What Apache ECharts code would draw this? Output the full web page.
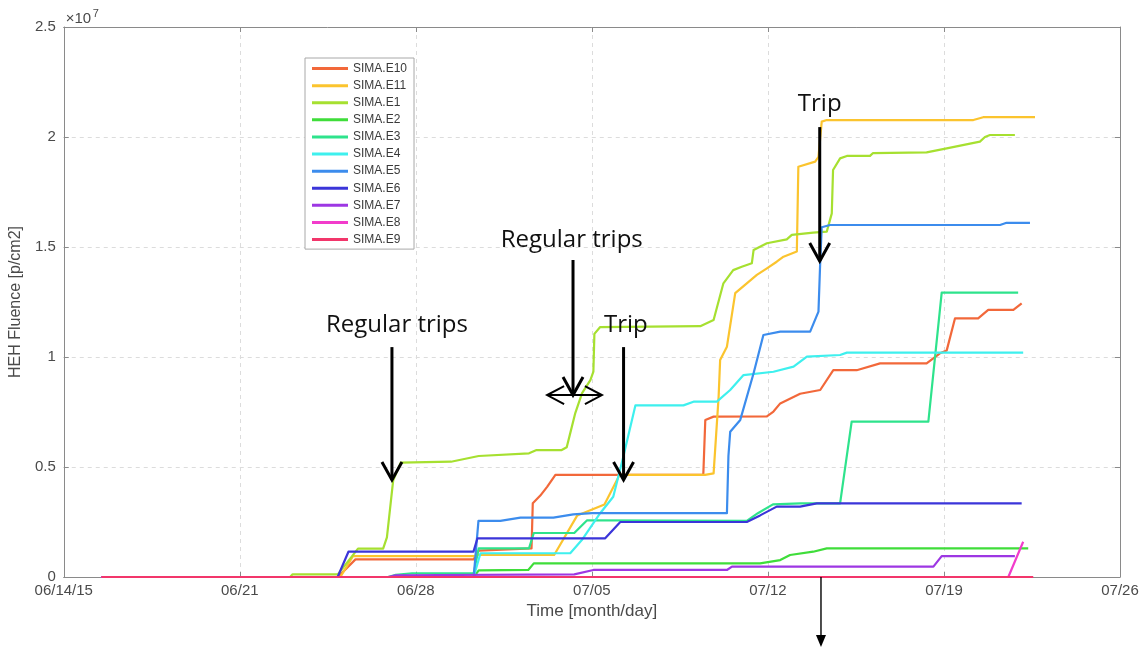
<!DOCTYPE html>
<html>
<head>
<meta charset="utf-8">
<title>HEH Fluence</title>
<script src="https://cdn.jsdelivr.net/npm/echarts@6/dist/echarts.min.js"></script>
<style>
  html, body { margin: 0; padding: 0; background: #ffffff; }
  #chart { width: 1144px; height: 649px; }
</style>
</head>
<body>
<div id="chart"></div>
<script>
// Cumulative HEH fluence per SIMA monitor.
// x: days since 06/14/15, y: fluence in units of 1e7 p/cm2.
const seriesNames = ['SIMA.E10', 'SIMA.E11', 'SIMA.E1', 'SIMA.E2', 'SIMA.E3', 'SIMA.E4',
                     'SIMA.E5', 'SIMA.E6', 'SIMA.E7', 'SIMA.E8', 'SIMA.E9'];
const seriesColors = ['#f2683a', '#fbc42e', '#a6e030', '#3fdd3a', '#2ee38c', '#3ef0ee',
                      '#3c8ced', '#3b35d9', '#9d37e3', '#f23ccb', '#f2366b'];

const xTickLabels = ['06/14/15', '06/21', '06/28', '07/05', '07/12', '07/19', '07/26'];
const yTickLabels = ['0', '0.5', '1', '1.5', '2', '2.5'];
const yExponent = '7';

const simaE10 = [[1.5,0],[10.9,0],[11.6,0.08],[16.3,0.08],[16.5,0.12],[18.6,0.13],[18.65,0.335],[18.95,0.37],
  [19.22,0.41],[19.55,0.464],[25.43,0.464],[25.51,0.714],[25.84,0.729],[27.96,0.73],[28.22,0.752],[28.49,0.789],
  [29.28,0.833],[30.08,0.85],[30.6,0.94],[31.53,0.94],[32.46,0.971],[34.31,0.971],[34.84,1.017],[35.11,1.03],
  [35.44,1.176],[36.36,1.176],[36.76,1.214],[37.76,1.214],[38.09,1.244]];
const simaE11 = [[1.5,0],[11.0,0],[11.5,0.095],[16.3,0.095],[16.5,0.1],[19.5,0.1],[20.42,0.28],[21.5,0.33],
  [22.1,0.464],[25.5,0.464],[25.84,0.471],[26.04,0.82],[26.1,0.986],[26.37,1.047],[26.7,1.29],[27.16,1.335],
  [27.56,1.373],[27.96,1.403],[28.35,1.433],[28.62,1.456],[29.15,1.48],[29.21,1.865],[29.88,1.888],[30.01,1.91],
  [30.14,2.07],[30.34,2.077],[36.17,2.077],[36.56,2.09],[38.62,2.09]];
const simaE1 = [[1.5,0],[9.0,0],[9.1,0.012],[10.9,0.012],[11.7,0.129],[12.7,0.129],[12.85,0.18],[13.1,0.44],
  [13.4,0.52],[15.4,0.524],[16.5,0.55],[18.5,0.562],[18.8,0.577],[19.8,0.577],[20.0,0.59],[20.14,0.654],
  [20.34,0.745],[20.61,0.836],[20.94,0.895],[21.06,0.933],[21.1,1.105],[21.33,1.136],[25.31,1.14],[25.84,1.168],
  [26.23,1.335],[26.62,1.395],[26.96,1.41],[27.36,1.426],[27.43,1.486],[27.96,1.517],[28.75,1.535],[28.95,1.555],
  [29.8,1.565],[30.34,1.57],[30.54,1.653],[30.59,1.85],[30.87,1.903],[31.14,1.914],[32.06,1.914],[32.18,1.927],
  [34.31,1.93],[35.11,1.948],[36.43,1.979],[36.63,2.0],[36.83,2.009],[37.82,2.009]];
const simaE2 = [[1.5,0],[16.3,0],[16.5,0.03],[18.47,0.032],[18.69,0.062],[27.69,0.062],[28.49,0.077],
  [28.88,0.1],[29.8,0.115],[30.34,0.13],[38.35,0.13]];
const simaE3 = [[1.5,0],[12.9,0],[13.2,0.01],[13.85,0.017],[16.3,0.017],[16.5,0.13],[18.5,0.13],[18.69,0.2],
  [20.3,0.2],[20.81,0.258],[27.16,0.255],[27.6,0.29],[28.2,0.33],[29.3,0.335],[30.87,0.335],[31.33,0.706],
  [34.38,0.706],[34.91,1.293],[37.95,1.293]];
const simaE4 = [[1.5,0],[16.3,0],[16.57,0.108],[20.14,0.108],[20.6,0.168],[21.33,0.29],[21.85,0.365],
  [22.25,0.547],[22.73,0.78],[24.64,0.78],[25.04,0.797],[25.97,0.797],[26.5,0.85],[27.03,0.918],[28.22,0.933],
  [29.02,0.956],[29.55,1.002],[30.87,1.009],[31.14,1.02],[38.15,1.02]];
const simaE5 = [[1.5,0],[16.3,0],[16.49,0.255],[17.36,0.255],[18.16,0.27],[19.47,0.27],[20.26,0.285],
  [21.0,0.29],[26.37,0.29],[26.43,0.55],[26.5,0.66],[26.9,0.714],[27.43,0.926],[27.82,1.1],[28.49,1.115],
  [29.68,1.115],[30.01,1.206],[30.08,1.433],[30.14,1.59],[30.47,1.6],[37.23,1.6],[37.49,1.61],[38.42,1.61]];
const simaE6 = [[1.5,0],[10.89,0],[11.32,0.115],[16.29,0.115],[16.45,0.176],[21.53,0.176],[22.13,0.25],
  [27.16,0.25],[27.69,0.28],[28.35,0.32],[29.28,0.32],[29.94,0.335],[38.09,0.335]];
const simaE7 = [[1.5,0],[12.9,0],[13.2,0.008],[20.3,0.012],[21.06,0.032],[26.37,0.032],[26.57,0.047],
  [34.58,0.047],[34.91,0.095],[37.82,0.095]];
const simaE8 = [[1.5,0],[37.56,0],[38.15,0.16]];
const simaE9 = [[1.5,0],[38.55,0]];

const seriesData = [simaE10, simaE11, simaE1, simaE2, simaE3, simaE4, simaE5, simaE6, simaE7, simaE8, simaE9];

// Annotation callouts, in axis units (day, fluence/1e7).
const calloutTexts = [
  { text: 'Regular trips', at: [13.25, 1.145] },
  { text: 'Regular trips', at: [20.2, 1.532] },
  { text: 'Trip', at: [22.35, 1.145] },
  { text: 'Trip', at: [30.06, 2.15] }
];
const calloutArrows = [ // [day, from, to]
  [13.05, 1.045, 0.441],
  [20.25, 1.441, 0.827],
  [22.26, 1.045, 0.441],
  [30.06, 2.045, 1.436]
];
const spanArrow = [19.22, 21.40, 0.827]; // [fromDay, toDay, level]
const dropArrow = [30.11, 0, -0.318];    // [day, from, to]

const chart = echarts.init(document.getElementById('chart'), null, { renderer: 'canvas' });

const axisGray = '#8a8a8a';
const labelGray = '#4a4a4a';
const gridStyle = { show: true, lineStyle: { color: '#dcdcdc', type: [4, 4], width: 1 } };

const option = {
  backgroundColor: '#ffffff',
  animation: false,
  grid: { left: 63, right: 24, top: 27, bottom: 72, containLabel: false },
  legend: {
    orient: 'vertical',
    left: 305,
    top: 58,
    padding: [2, 7, 1, 7],
    backgroundColor: '#ffffff',
    borderColor: '#a8a8a8',
    borderWidth: 1,
    borderRadius: 0,
    itemWidth: 36,
    itemHeight: 3,
    itemGap: 0,
    icon: 'rect',
    selectedMode: false,
    textStyle: { fontFamily: 'Liberation Sans', fontSize: 12, color: '#3a3a3a', lineHeight: 17.1 },
    data: seriesNames
  },
  xAxis: [{
    type: 'value', min: 0, max: 42, interval: 7,
    name: 'Time [month/day]', nameLocation: 'middle', nameGap: 26,
    nameTextStyle: { fontFamily: 'Liberation Sans', fontSize: 17, color: labelGray, verticalAlign: 'top' },
    axisLine: { show: true, onZero: false, lineStyle: { color: axisGray, width: 1 } },
    axisTick: { show: true, inside: true, length: 5, lineStyle: { color: axisGray } },
    axisLabel: { fontFamily: 'Liberation Sans', fontSize: 15, color: labelGray, margin: 6,
      formatter: v => xTickLabels[Math.round(v / 7)] },
    splitLine: gridStyle
  }, {
    type: 'value', min: 0, max: 42, interval: 7, position: 'top',
    axisLine: { show: true, onZero: false, lineStyle: { color: axisGray, width: 1 } },
    axisTick: { show: true, inside: true, length: 5, lineStyle: { color: axisGray } },
    axisLabel: { show: false }, splitLine: { show: false }
  }],
  yAxis: [{
    type: 'value', min: 0, max: 2.5, interval: 0.5,
    name: 'HEH Fluence [p/cm2]', nameLocation: 'middle', nameGap: 37,
    nameTextStyle: { fontFamily: 'Liberation Sans', fontSize: 16, color: labelGray },
    axisLine: { show: true, onZero: false, lineStyle: { color: axisGray, width: 1 } },
    axisTick: { show: true, inside: true, length: 5, lineStyle: { color: axisGray } },
    axisLabel: { fontFamily: 'Liberation Sans', fontSize: 15, color: labelGray, margin: 8,
      formatter: v => yTickLabels[Math.round(v / 0.5)] },
    splitLine: gridStyle
  }, {
    type: 'value', min: 0, max: 2.5, interval: 0.5, position: 'right',
    axisLine: { show: true, onZero: false, lineStyle: { color: axisGray, width: 1 } },
    axisTick: { show: true, inside: true, length: 5, lineStyle: { color: axisGray } },
    axisLabel: { show: false }, splitLine: { show: false }
  }],
  series: seriesNames.map((name, i) => ({
    name: name,
    type: 'line',
    xAxisIndex: 0,
    yAxisIndex: 0,
    data: seriesData[i],
    showSymbol: false,
    symbol: 'none',
    color: seriesColors[i],
    lineStyle: { width: 2.2, color: seriesColors[i], join: 'round' },
    emphasis: { disabled: true }
  }))
};

chart.setOption(option);

// Callout arrows and labels, placed through the axes.
const px = (d, v) => chart.convertToPixel({ gridIndex: 0 }, [d, v]);
const graphics = [];

calloutTexts.forEach(c => {
  const p = px(c.at[0], c.at[1]);
  graphics.push({
    type: 'text', x: p[0], y: p[1], z: 100,
    style: { text: c.text, fill: '#111111', font: '24px "Open Sans"', align: 'center', verticalAlign: 'middle' }
  });
});

calloutArrows.forEach(a => {
  const top = px(a[0], a[1]);
  const tip = px(a[0], a[2]);
  graphics.push({
    type: 'polyline', z: 100,
    shape: { points: [top, tip] },
    style: { stroke: '#000000', lineWidth: 3, fill: null }
  });
  graphics.push({
    type: 'polyline', z: 100,
    shape: { points: [[tip[0] - 10, tip[1] - 18], tip, [tip[0] + 10, tip[1] - 18]] },
    style: { stroke: '#000000', lineWidth: 3, fill: null, lineJoin: 'miter' }
  });
});

(function () {
  const l = px(spanArrow[0], spanArrow[2]);
  const r = px(spanArrow[1], spanArrow[2]);
  graphics.push({ type: 'polyline', z: 100, shape: { points: [l, r] },
    style: { stroke: '#000000', lineWidth: 2, fill: null } });
  graphics.push({ type: 'polyline', z: 100,
    shape: { points: [[l[0] + 17, l[1] - 9], l, [l[0] + 17, l[1] + 9]] },
    style: { stroke: '#000000', lineWidth: 2, fill: null } });
  graphics.push({ type: 'polyline', z: 100,
    shape: { points: [[r[0] - 17, r[1] - 9], r, [r[0] - 17, r[1] + 9]] },
    style: { stroke: '#000000', lineWidth: 2, fill: null } });

  const s = px(dropArrow[0], dropArrow[1]);
  const e = px(dropArrow[0], dropArrow[2]);
  graphics.push({ type: 'line', z: 100,
    shape: { x1: s[0], y1: s[1], x2: e[0], y2: e[1] - 10 },
    style: { stroke: '#000000', lineWidth: 1.4 } });
  graphics.push({ type: 'polygon', z: 100,
    shape: { points: [[e[0] - 5, e[1] - 12], [e[0] + 5, e[1] - 12], e] },
    style: { fill: '#000000' } });

  // exponent label above the y axis
  const o = px(0, 2.5);
  graphics.push({ type: 'text', x: o[0] + 2, y: o[1] - 1, z: 100,
    style: { text: '×10', fill: labelGray, font: '15px "Liberation Sans"', align: 'left', verticalAlign: 'bottom' } });
  graphics.push({ type: 'text', x: o[0] + 29, y: o[1] - 8, z: 100,
    style: { text: yExponent, fill: labelGray, font: '11px "Liberation Sans"', align: 'left', verticalAlign: 'bottom' } });
})();

chart.setOption({ graphic: graphics });
</script>
</body>
</html>
